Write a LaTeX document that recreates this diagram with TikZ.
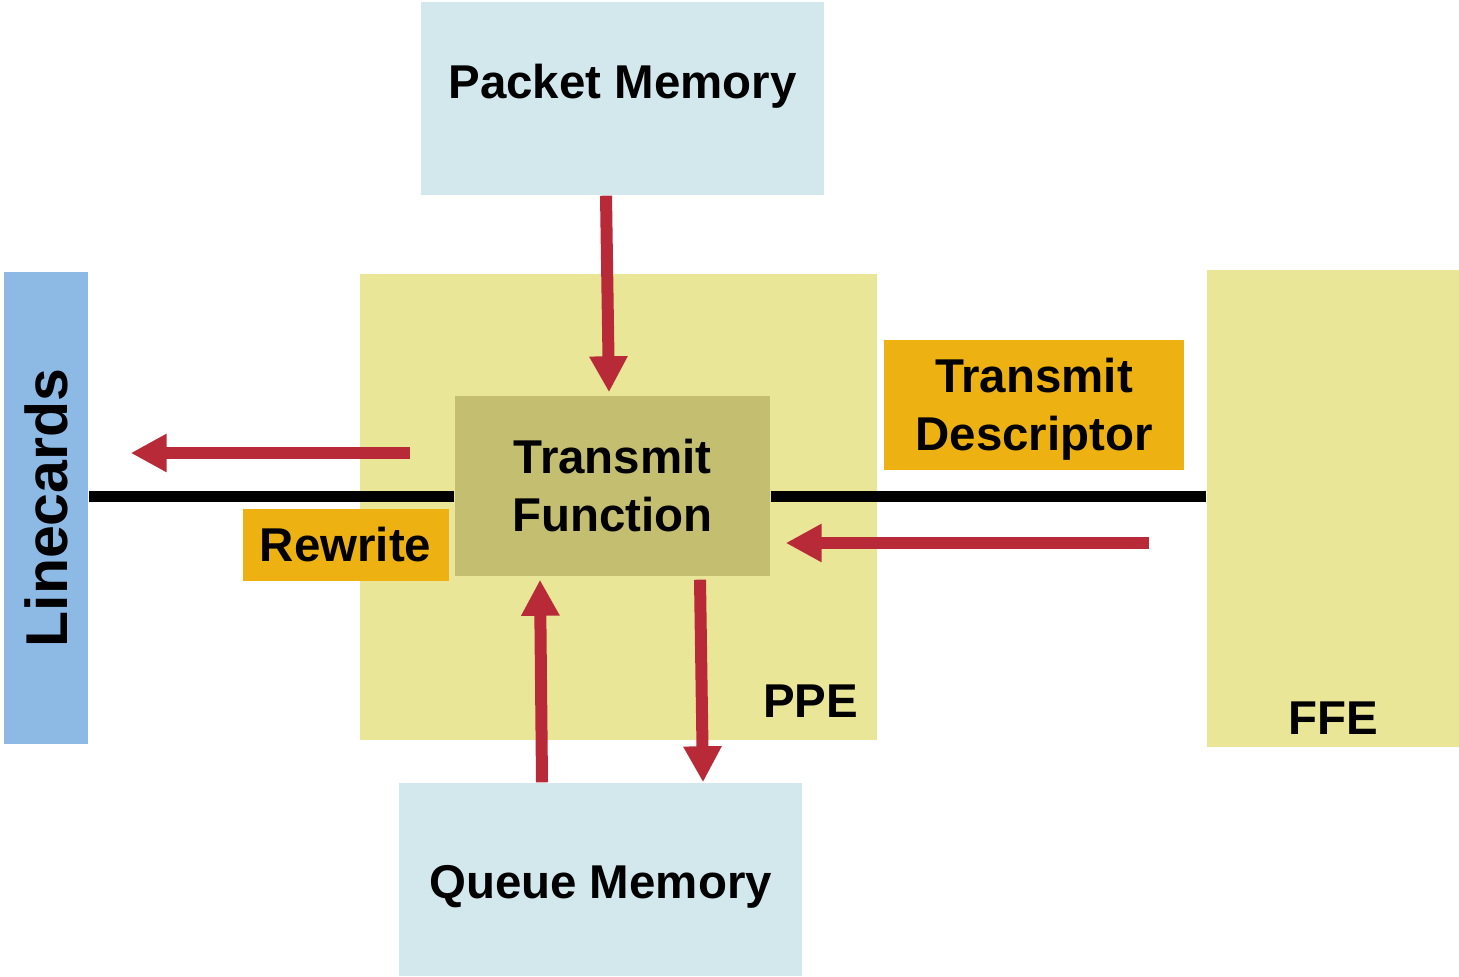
\documentclass[tikz,border=0pt]{standalone}
\usepackage{fontspec}
\setmainfont{Liberation Sans}
\usepackage{tikz}
\usetikzlibrary{arrows.meta,positioning}

\definecolor{memblue}{HTML}{D3E8EC}
\definecolor{lcblue}{HTML}{8DB9E5}
\definecolor{peyellow}{HTML}{EAE698}
\definecolor{tfolive}{HTML}{C3BE70}
\definecolor{tagorange}{HTML}{EDB211}
\definecolor{arrowred}{HTML}{B82A38}

\begin{document}
\begin{tikzpicture}[
    block/.style={rectangle, inner sep=0pt, align=center, font=\fontsize{13.5}{16.5}\selectfont\bfseries},
    mem/.style={block, fill=memblue, minimum width=4.03cm, minimum height=1.93cm},
    engine/.style={block, fill=peyellow},
    tag/.style={block, fill=tagorange},
    lbl/.style={inner sep=0pt, font=\fontsize{13.5}{16.5}\selectfont\bfseries},
    flow/.style={draw=arrowred, line width=0.12cm, -{Triangle[length=0.36cm, width=0.36cm]}},
    bus/.style={draw=black, line width=0.11cm},
    node distance=0.5cm
]
\useasboundingbox (0,0) rectangle (14.59,9.76);

\node[mem] (pmem) at (6.225,8.775) {\raisebox{0.12cm}[\height][\depth]{Packet Memory}};
\node[mem] (qmem) at (6.005,0.965) {\raisebox{-0.07cm}[\height][\depth]{Queue Memory}};
\node[engine, minimum width=5.17cm, minimum height=4.66cm] (ppe) at (6.185,4.69) {};
\node[engine, minimum width=2.52cm, minimum height=4.77cm] (ffe) at (13.33,4.675) {};
\node[block, fill=lcblue, minimum width=0.84cm, minimum height=4.72cm, font=\fontsize{16.8}{20}\selectfont\bfseries] (lc) at (0.46,4.68) {\rotatebox{90}{Linecards}};
\node[block, fill=tfolive, minimum width=3.15cm, minimum height=1.80cm] (tf) at (6.125,4.90) {Transmit\\Function};
\node[tag, minimum width=3.00cm, minimum height=1.30cm] (td) at (10.34,5.71) {\raisebox{-0.05cm}[\height][\depth]{\begin{tabular}{@{}c@{}}Transmit\\Descriptor\end{tabular}}};
\node[tag, minimum width=2.06cm, minimum height=0.72cm, anchor=south east] (rw) at ([shift={(-0.05,-0.05)}]tf.south west) {Rewrite};

\node[lbl, anchor=base east] (ppelbl) at ([shift={(-0.19,0.23)}]ppe.south east) {PPE};
\node[lbl, anchor=base] (ffelbl) at ([yshift=0.13cm]ffe.south) {FFE};

% bus
\draw[bus] ([yshift=-0.11cm]tf.west) -- ([yshift=-0.11cm]tf.west -| lc.east);
\draw[bus] ([yshift=-0.11cm]tf.east) -- ([yshift=-0.11cm]tf.east -| ffe.west);

% data flow
\draw[flow] ([xshift=-0.165cm]pmem.south) -- ([shift={(-0.035,0.03)}]tf.north);
\draw[flow] ([xshift=-0.585cm]qmem.north) -- ([shift={(-0.725,-0.03)}]tf.south);
\draw[flow] ([shift={(0.875,-0.03)}]tf.south) -- ([xshift=1.025cm]qmem.north);
\draw[flow] ([shift={(-0.44,0.33)}]tf.west) -- ([shift={(0.42,0.33)}]tf.west -| lc.east);
\draw[flow] ([shift={(-0.57,-0.57)}]ffe.west |- tf.east) -- ([shift={(0.15,-0.57)}]tf.east);
\end{tikzpicture}
\end{document}
